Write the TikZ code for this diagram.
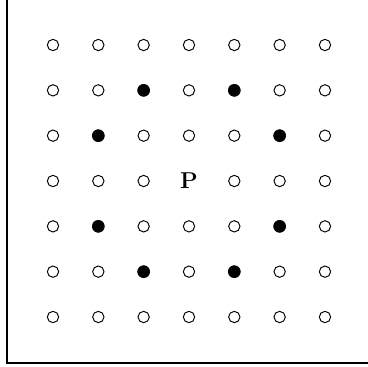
\documentclass[tikz,border=0pt]{standalone}
\usepackage{tikz}
\usetikzlibrary{positioning}

\begin{document}
\begin{tikzpicture}[
  free/.style={circle, draw=black, line width=0.6pt, fill=white,
               minimum size=0.25cm, inner sep=0pt},
  hit/.style={circle, fill=black, minimum size=0.28cm, inner sep=0pt},
  piece/.style={font=\Large\bfseries, inner sep=0pt},
  frame/.style={line width=1.2pt}]
  \useasboundingbox (-1.169,-7.081) rectangle (6.949,0.993);
  % board border, only left and bottom sides
  \coordinate (top) at (-1.015,0.993);
  \coordinate (corner) at (-1.015,-7.015);
  \coordinate (right) at (6.949,-7.015);
  \draw[frame] (top) -- (corner) -- (right);
  % grid of squares
  \foreach \c in {0,...,6}{
    \foreach \r in {0,...,6}{
      \ifnum\c=3 \ifnum\r=3 \else
        \node[free] (sq-\c-\r) at (\c,-\r) {};
      \fi\else
        \node[free] (sq-\c-\r) at (\c,-\r) {};
      \fi
    }
  }
  \node[piece] (P) at (3,-3) {P};
  % squares reached by the knight
  \foreach \c/\r in {2/1,4/1,1/2,5/2,1/4,5/4,2/5,4/5}{
    \node[hit] (hit-\c-\r) at (\c,-\r) {};
  }
\end{tikzpicture}
\end{document}
